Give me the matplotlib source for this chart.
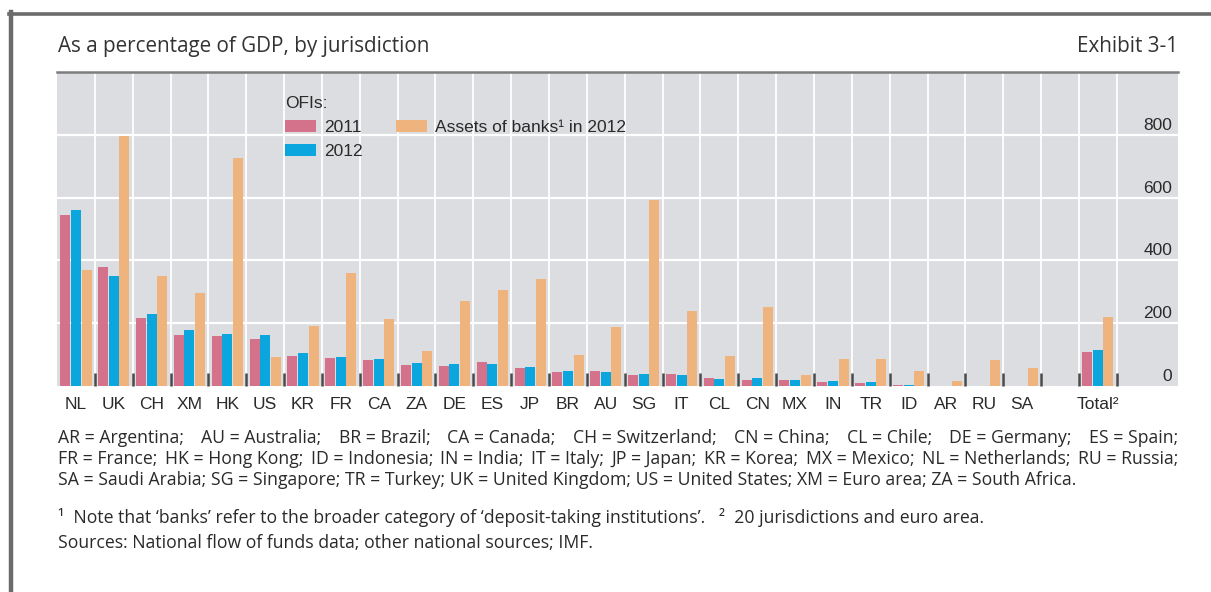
import matplotlib
matplotlib.use("Agg")
import matplotlib.pyplot as plt
import matplotlib.transforms as mtransforms
from matplotlib.lines import Line2D
import numpy as np

labels = ["NL", "UK", "CH", "XM", "HK", "US", "KR", "FR", "CA", "ZA", "DE", "ES", "JP",
          "BR", "AU", "SG", "IT", "CL", "CN", "MX", "IN", "TR", "ID", "AR", "RU", "SA", "Total²"]
ofi_2011 = [543, 379, 215, 164, 159, 149, 95, 90, 83, 66, 65, 77, 58,
            44, 47, 34, 39, 24, 18, 18, 14, 8, 3, 1, 0, 0, 109]
ofi_2012 = [561, 349, 229, 178, 167, 164, 106, 93, 87, 73, 70, 69, 59,
            48, 46, 39, 36, 23, 24, 19, 16, 12, 4, 1.5, 1, 0, 116]
banks_2012 = [368, 795, 349, 297, 725, 91, 191, 361, 213, 112, 271, 307, 340,
              99, 187, 593, 238, 95, 252, 36, 86, 86, 48, 17, 83, 58, 220]
yticks = [0, 200, 400, 600, 800]

abbrev_1 = ["AR = Argentina;", "AU = Australia;", "BR = Brazil;", "CA = Canada;",
            "CH = Switzerland;", "CN = China;", "CL = Chile;", "DE = Germany;", "ES = Spain;"]
abbrev_2 = ["FR = France;", "HK = Hong Kong;", "ID = Indonesia;", "IN = India;", "IT = Italy;",
            "JP = Japan;", "KR = Korea;", "MX = Mexico;", "NL = Netherlands;", "RU = Russia;"]
abbrev_3 = "SA = Saudi Arabia; SG = Singapore; TR = Turkey; UK = United Kingdom; US = United States; XM = Euro area; ZA = South Africa."
note = "¹  Note that ‘banks’ refer to the broader category of ‘deposit-taking institutions’.   ²  20 jurisdictions and euro area."
sources = "Sources: National flow of funds data; other national sources; IMF."

PINK = "#d5728b"
BLUE = "#0aa6dd"
TAN = "#efb37e"
BG = "#dcdde0"
TXT = "#2a2a2a"
ARIAL = ["Liberation Sans", "DejaVu Sans"]
SEGOE = ["Open Sans", "DejaVu Sans"]

W, H = 1211, 592
fig = plt.figure(figsize=(W / 100, H / 100), dpi=100)
fig.patch.set_facecolor("white")

# outer frame (top and left edges only)
fig.add_artist(Line2D([9 / W, 1], [1 - 13.5 / H] * 2, color="#6b6b6b", lw=2.6))
fig.add_artist(Line2D([11 / W] * 2, [0, 1 - 12 / H], color="#6b6b6b", lw=3.2))

left, right, top, bottom = 57, 1178, 72, 386
slot = 37.85
ax = fig.add_axes([left / W, 1 - bottom / H, (right - left) / W, (bottom - top) / H])
ax.set_facecolor(BG)
ax.set_xlim(-0.5, -0.5 + (right - left) / slot)
ax.set_ylim(0, 1000)

# countries in slots 0..25, one empty slot, then the total
x = np.array(list(range(len(labels) - 1)) + [len(labels)])
bw = 0.265
ax.bar(x - 0.28, ofi_2011, bw, color=PINK, zorder=3, label="2011")
ax.bar(x, ofi_2012, bw, color=BLUE, zorder=3, label="2012")
ax.bar(x + 0.28, banks_2012, bw, color=TAN, zorder=3, label="Assets of banks¹ in 2012")

bounds = np.arange(0.5, x[-1] + 1, 1)
for b in bounds:
    ax.axvline(b, color="white", lw=1.3, zorder=1)
for v in yticks[1:]:
    ax.axhline(v, color="white", lw=1.6, zorder=1)

for s in ["left", "right", "bottom"]:
    ax.spines[s].set_visible(False)
ax.spines["top"].set_color("#7d7d7d")
ax.spines["top"].set_linewidth(1.8)

ax.set_xticks(x, labels, fontsize=12.5, family=ARIAL, color=TXT)
ax.set_xticks(bounds, minor=True)
ax.tick_params(axis="x", which="major", length=0, pad=8)
ax.tick_params(axis="x", which="minor", direction="in", length=9.5, width=1.8, color="#4a4a4a")
ax.set_yticks([])

lab_tr = mtransforms.offset_copy(mtransforms.blended_transform_factory(ax.transAxes, ax.transData),
                                 fig=fig, x=-6, y=2, units="dots")
for v in yticks:
    ax.text(1, v, str(v), transform=lab_tr, ha="right", va="bottom",
            fontsize=12.5, family=ARIAL, color=TXT)

leg = ax.legend(ncol=2, title="OFIs:", frameon=False, alignment="left",
                loc="upper left", bbox_to_anchor=((285 - left) / (right - left), (bottom - 96) / (bottom - top)),
                borderpad=0, borderaxespad=0, handlelength=1.8, handleheight=0.72,
                handletextpad=0.45, columnspacing=1.9, labelspacing=0.5,
                prop={"family": ARIAL, "size": 12.5},
                title_fontproperties={"family": ARIAL, "size": 12.5})
for t in leg.get_texts():
    t.set_color(TXT)
leg.get_title().set_color(TXT)

renderer = fig.canvas.get_renderer()


def fit(t, target):
    w = t.get_window_extent(renderer).width
    t.set_fontsize(t.get_fontsize() * target / w)
    return t


# header
hdr = fit(fig.text(58 / W, 1 - 52 / H, "As a percentage of GDP, by jurisdiction", va="baseline",
                   fontsize=14, family=SEGOE, color="#333333"), 373)
fig.text(1178 / W, 1 - 52 / H, "Exhibit 3-1", va="baseline", ha="right",
         fontsize=hdr.get_fontsize(), family=SEGOE, color="#333333")

# footer
l3 = fit(fig.text(58 / W, 1 - 485 / H, abbrev_3, va="baseline", fontsize=11,
                  family=SEGOE, color=TXT), 1019)
fs = l3.get_fontsize()


def justified(items, base):
    texts = [fig.text(0, 1 - base / H, s, va="baseline", fontsize=fs, family=SEGOE, color=TXT)
             for s in items]
    widths = [t.get_window_extent(renderer).width for t in texts]
    gap = (1178 - 58 - sum(widths)) / (len(items) - 1)
    xp = 58
    for t, w in zip(texts, widths):
        t.set_x(xp / W)
        xp += w + gap


justified(abbrev_1, 443)
justified(abbrev_2, 464)
fig.text(58 / W, 1 - 523 / H, note, va="baseline", fontsize=fs, family=SEGOE, color=TXT)
fig.text(58 / W, 1 - 548 / H, sources, va="baseline", fontsize=fs, family=SEGOE, color=TXT)

fig.savefig("out.png", dpi=100)
